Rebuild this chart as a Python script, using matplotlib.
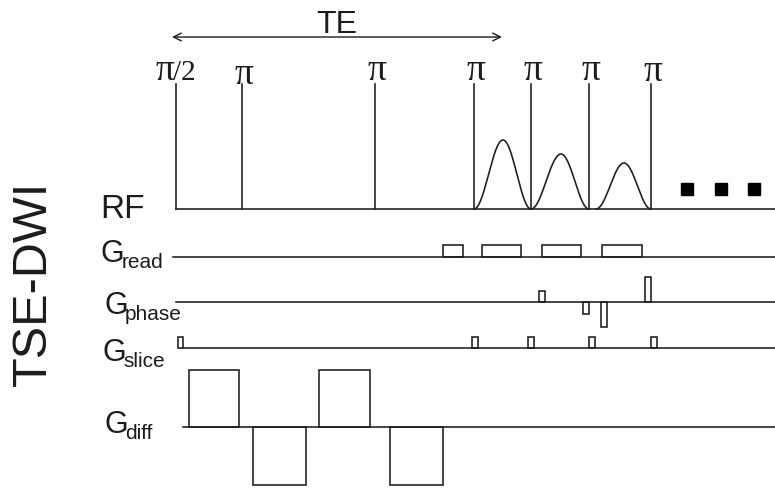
import numpy as np
import matplotlib
matplotlib.use("Agg")
import matplotlib.pyplot as plt
from matplotlib.patches import Rectangle

# ---------------- data (schematic time axis, arbitrary units) ----------------
rf_pulse_t = [176, 242, 375, 474, 531, 589, 651]
rf_pulse_labels = ["π/2", "π", "π", "π", "π", "π", "π"]

echo_center = [503, 561, 624]
echo_amp = [69, 55, 46]
echo_start = [474, 531, 596]
echo_end = [531, 589, 651]

read_start = [443, 482, 542, 602]
read_end = [463, 521, 581, 642]
read_amp = [12, 12, 12, 12]

phase_start = [539, 583, 601, 645]
phase_end = [545, 589, 607, 651]
phase_amp = [11, -12, -25, 25]

slice_start = [178, 472, 528, 589, 651]
slice_end = [183, 478, 534, 595, 657]
slice_amp = [11, 11, 11, 11, 11]

diff_start = [189, 253, 319, 390]
diff_end = [239, 306, 370, 443]
diff_amp = [57, -58, 57, -58]

dots_t = [687, 721, 754]

te_start, te_end = 172, 502

# ---------------- layout ----------------
W, H = 775, 489
fig = plt.figure(figsize=(W / 100, H / 100), dpi=100)
ax = fig.add_axes([0, 0, 1, 1])
ax.set_xlim(0, W)
ax.set_ylim(H, 0)
ax.axis("off")

col = "#1c1c1c"
lw = 1.15
sans = "Liberation Sans"
serif = "Liberation Serif"

y_rf, y_read, y_phase, y_slice, y_diff = 210, 258, 303, 349, 428
pulse_top = 85
label_base = [80, 84, 80, 80, 80, 80, 81]

# RF baseline and pulses
ax.plot([176, W], [y_rf, y_rf], color=col, lw=lw)
for t, lab, yb in zip(rf_pulse_t, rf_pulse_labels, label_base):
    ax.plot([t, t], [y_rf, pulse_top], color=col, lw=lw)
    if lab == "π/2":
        ax.text(t - 20, yb, "π", fontsize=27, family=serif, ha="left", va="baseline", color=col)
        ax.text(t - 3, yb, "/2", fontsize=21, family=serif, ha="left", va="baseline", color=col)
    else:
        ax.text(t + 2, yb, lab, fontsize=27, family=serif, ha="center", va="baseline", color=col)

# echoes (smooth bell shapes)
for c, a, s, e in zip(echo_center, echo_amp, echo_start, echo_end):
    tt = np.linspace(s, e, 300)
    left = tt < c
    u = np.where(left, (c - tt) / (c - s), (tt - c) / (e - c))
    yy = a * np.cos(0.5 * np.pi * np.clip(u, 0, 1)) ** 2
    ax.plot(tt, y_rf - yy, color=col, lw=lw)

# continuation dots
ax.plot(dots_t, [190] * len(dots_t), "s", color="black", markersize=8.5)

# TE arrow
ax.annotate("", xy=(te_end, 38), xytext=(te_start, 38),
            arrowprops=dict(arrowstyle="<->", lw=1.0, color=col,
                            mutation_scale=14, shrinkA=0, shrinkB=0))
ax.text(337, 33, "TE", fontsize=23, family=sans, ha="center", va="baseline", color=col)


def lobes(starts, ends, amps, y0):
    for s, e, a in zip(starts, ends, amps):
        ax.add_patch(Rectangle((s, y0), e - s, -a, fill=False, edgecolor=col, lw=lw))


# gradient channels
ax.plot([173, W], [y_read, y_read], color=col, lw=lw)
lobes(read_start, read_end, read_amp, y_read)

ax.plot([176, W], [y_phase, y_phase], color=col, lw=lw)
lobes(phase_start, phase_end, phase_amp, y_phase)

ax.plot([183, W], [y_slice, y_slice], color=col, lw=lw)
lobes(slice_start, slice_end, slice_amp, y_slice)

ax.plot([183, W], [y_diff, y_diff], color=col, lw=lw)
lobes(diff_start, diff_end, diff_amp, y_diff)

# channel labels
ax.text(100, 218, "RF", fontsize=24, family=sans, ha="left", va="baseline", color=col)
for gx, gy, sx, sub in [(100, 262, 122, "read"), (104, 314, 125, "phase"),
                        (102, 361, 123, "slice"), (104, 433, 125, "diff")]:
    ax.text(gx, gy, "G", fontsize=22, family=sans, ha="left", va="baseline", color=col)
    ax.text(sx, gy + 6, sub, fontsize=15, family=sans, ha="left", va="baseline", color=col)

ax.text(33, 283, "TSE-DWI", fontsize=35, family=sans, rotation=90,
        ha="center", va="center", color=col)

fig.savefig("out.png", dpi=100)
